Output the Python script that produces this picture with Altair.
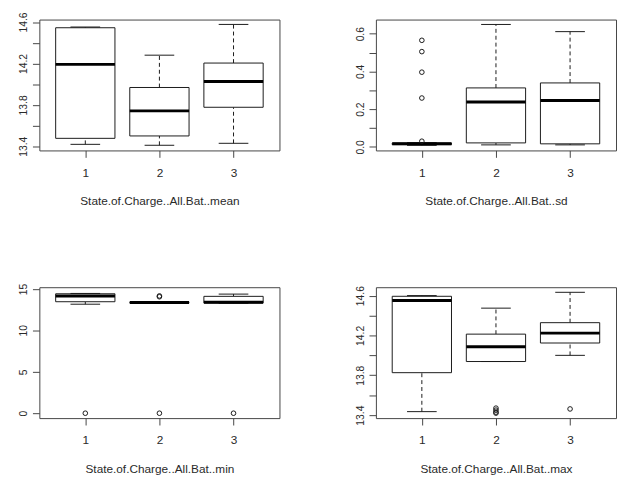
import altair as alt
import pandas as pd

cats = [1, 2, 3]

# panel 1: mean
mean_lo = [13.419, 13.41, 13.429]
mean_q1 = [13.477, 13.50, 13.777]
mean_med = [14.191, 13.742, 14.026]
mean_q3 = [14.545, 13.968, 14.204]
mean_hi = [14.552, 14.28, 14.577]
mean_out_cat = []
mean_out_val = []

# panel 2: sd
sd_lo = [0.008, 0.0105, 0.0105]
sd_q1 = [0.012, 0.021, 0.016]
sd_med = [0.016, 0.238, 0.246]
sd_q3 = [0.020, 0.3126, 0.339]
sd_hi = [0.022, 0.649, 0.611]
sd_out_cat = [1, 1, 1, 1, 1]
sd_out_val = [0.565, 0.505, 0.396, 0.259, 0.03]

# panel 3: min
min_lo = [13.15, 13.30, 13.27]
min_q1 = [13.45, 13.32, 13.30]
min_med = [14.14, 13.35, 13.38]
min_q3 = [14.41, 13.38, 14.10]
min_hi = [14.45, 13.40, 14.37]
min_out_cat = [1, 2, 2, 2, 3]
min_out_val = [0.0, 14.05, 14.15, 0.0, 0.0]

# panel 4: max
max_lo = [13.435, 13.938, 14.0]
max_q1 = [13.826, 13.938, 14.124]
max_med = [14.55, 14.087, 14.223]
max_q3 = [14.593, 14.213, 14.328]
max_hi = [14.60, 14.474, 14.633]
max_out_cat = [2, 2, 2, 2, 3]
max_out_val = [13.47, 13.45, 13.43, 13.42, 13.462]

FONT = "Liberation Sans"
INK = "#1a1a1a"
TXT = "#2a2a2a"
W, H = 244, 133


def panel(title, lo, q1, med, q3, hi, out_cat, out_val, domain, ticks, labels, fmt):
    df = pd.DataFrame({"cat": cats, "lo": lo, "q1": q1, "med": med, "q3": q3, "hi": hi})
    xs = alt.Scale(domain=[0.38, 3.62], nice=False, zero=False)
    ys = alt.Scale(domain=domain, nice=False, zero=False)
    xaxis = alt.Axis(values=cats, format="d", title=title, domain=False, grid=False,
                     tickSize=7, tickColor="#444", labelPadding=10, titlePadding=18,
                     labelFont=FONT, titleFont=FONT, labelFontSize=12, titleFontSize=12,
                     labelColor=TXT, titleColor=TXT, titleFontWeight="normal")
    lab_list = "[" + ",".join("'" + s + "'" for s in labels) + "]"
    yaxis = alt.Axis(values=ticks, title=None, domain=False, grid=False,
                     tickSize=7, tickColor="#444", labelPadding=4, labelAngle=270,
                     labelExpr=f"indexof({lab_list}, format(datum.value, '{fmt}')) >= 0 ? format(datum.value, '{fmt}') : ''",
                     labelFont=FONT, labelFontSize=10.5, labelColor=TXT)
    base = alt.Chart(df).transform_calculate(
        xl="datum.cat - 0.4", xr="datum.cat + 0.4",
        cl="datum.cat - 0.2", cr="datum.cat + 0.2")
    box = base.mark_rect(fill="white", stroke=INK, strokeWidth=1).encode(
        x=alt.X("xl:Q", scale=xs, axis=xaxis), x2="xr:Q",
        y=alt.Y("q1:Q", scale=ys, axis=yaxis), y2="q3:Q")
    wu = base.mark_rule(color=INK, strokeWidth=1, strokeDash=[4, 3]).encode(
        x=alt.X("cat:Q", scale=xs, axis=xaxis),
        y=alt.Y("q3:Q", scale=ys, axis=yaxis), y2="hi:Q")
    wd = base.mark_rule(color=INK, strokeWidth=1, strokeDash=[4, 3]).encode(
        x=alt.X("cat:Q", scale=xs, axis=xaxis),
        y=alt.Y("lo:Q", scale=ys, axis=yaxis), y2="q1:Q")
    cu = base.mark_rule(color=INK, strokeWidth=1).encode(
        x=alt.X("cl:Q", scale=xs, axis=xaxis), x2="cr:Q",
        y=alt.Y("hi:Q", scale=ys, axis=yaxis))
    cd = base.mark_rule(color=INK, strokeWidth=1).encode(
        x=alt.X("cl:Q", scale=xs, axis=xaxis), x2="cr:Q",
        y=alt.Y("lo:Q", scale=ys, axis=yaxis))
    md = base.mark_rule(color="#000", strokeWidth=3).encode(
        x=alt.X("xl:Q", scale=xs, axis=xaxis), x2="xr:Q",
        y=alt.Y("med:Q", scale=ys, axis=yaxis))
    layers = [wu, wd, box, cu, cd, md]
    if out_cat:
        odf = pd.DataFrame({"cat": out_cat, "val": out_val})
        pts = alt.Chart(odf).mark_point(shape="circle", filled=False, color=INK,
                                        size=22, strokeWidth=1, opacity=1).encode(
            x=alt.X("cat:Q", scale=xs, axis=xaxis),
            y=alt.Y("val:Q", scale=ys, axis=yaxis))
        layers.append(pts)
    return alt.layer(*layers).properties(width=W, height=H)


t14 = [13.4, 13.6, 13.8, 14.0, 14.2, 14.4, 14.6]
l14 = ["13.4", "13.8", "14.2", "14.6"]

p1 = panel("State.of.Charge..All.Bat..mean", mean_lo, mean_q1, mean_med, mean_q3, mean_hi,
           mean_out_cat, mean_out_val, [13.36, 14.624], t14, l14, ".1f")
p2 = panel("State.of.Charge..All.Bat..sd", sd_lo, sd_q1, sd_med, sd_q3, sd_hi,
           sd_out_cat, sd_out_val, [-0.019, 0.675],
           [0.0, 0.1, 0.2, 0.3, 0.4, 0.5, 0.6], ["0.0", "0.2", "0.4", "0.6"], ".1f")
p3 = panel("State.of.Charge..All.Bat..min", min_lo, min_q1, min_med, min_q3, min_hi,
           min_out_cat, min_out_val, [-0.59, 15.2], [0, 5, 10, 15], ["0", "5", "10", "15"], "d")
p4 = panel("State.of.Charge..All.Bat..max", max_lo, max_q1, max_med, max_q3, max_hi,
           max_out_cat, max_out_val, [13.37, 14.684], t14, l14, ".1f")

chart = alt.concat(p1, p2, p3, p4, columns=2, spacing=alt.RowColnumber(row=139, column=98),
                   bounds="flush").properties(
    padding={"left": 18, "top": 7, "right": 0, "bottom": 0},
    background="white",
).configure_view(stroke="#444", strokeWidth=1, fill="white")

chart.save("out.html", embed_options={"renderer": "svg", "actions": False})
